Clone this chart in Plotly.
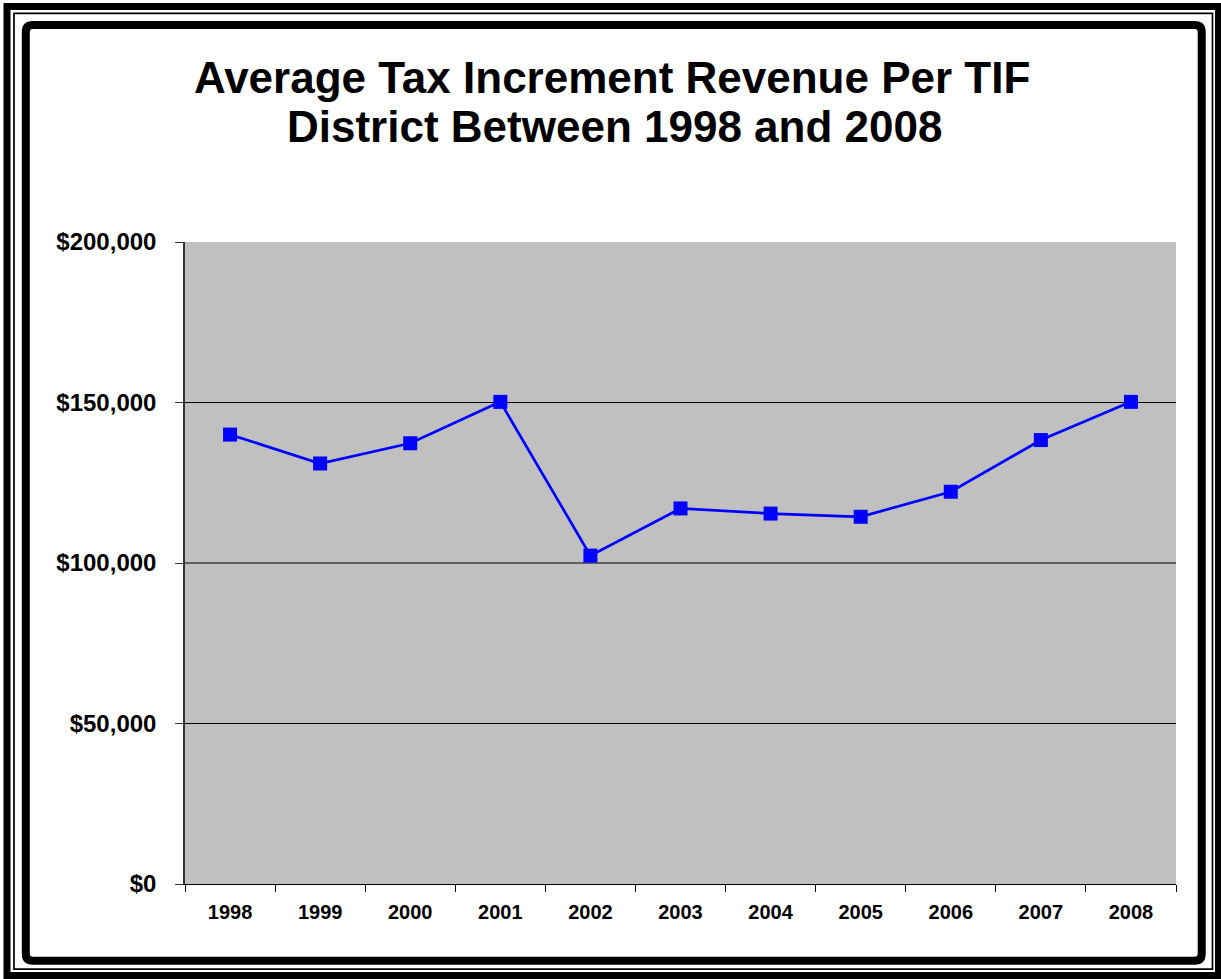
import plotly.graph_objects as go

years = ["1998", "1999", "2000", "2001", "2002", "2003", "2004", "2005", "2006", "2007", "2008"]
avg_revenue = [140000, 131000, 137300, 150200, 102300, 117000, 115400, 114400, 122200, 138300, 150200]
y_tick_vals = [0, 50000, 100000, 150000, 200000]
y_tick_text = ["$0", "$50,000", "$100,000", "$150,000", "$200,000"]
grid_vals = [50000, 100000, 150000]
title_lines = ["Average Tax Increment Revenue Per TIF", "District Between 1998 and 2008"]

W, H = 1221, 979
L, R, T, B = 185, 45, 242, 95
PW, PH = W - L - R, H - T - B


def px(x):
    return (x - L) / PW


def py(y):
    return (H - B - y) / PH


FONT = "Liberation Sans, Arial, sans-serif"

fig = go.Figure()
fig.add_trace(go.Scatter(
    x=years, y=avg_revenue, mode="lines+markers",
    line=dict(color="#0000FF", width=2.7),
    marker=dict(symbol="square", size=14, color="#0000FF", line=dict(color="#0000FF", width=0)),
    showlegend=False, hoverinfo="x+y",
))

shapes = []
for g in grid_vals:
    shapes.append(dict(type="line", xref="paper", yref="y", x0=0, x1=1, y0=g, y1=g,
                       line=dict(color="#000000", width=1), layer="below"))

# outer thick frame
shapes.append(dict(type="rect", xref="paper", yref="paper",
                   x0=px(7), x1=px(1218.5), y0=py(6.5), y1=py(975.5),
                   line=dict(color="black", width=7)))
# thin frame
shapes.append(dict(type="rect", xref="paper", yref="paper",
                   x0=px(14), x1=px(1212.5), y0=py(13.3), y1=py(969.2),
                   line=dict(color="black", width=1.7)))
# inner rounded chart-area border
x0, x1, y0, y1, rr = 25.8, 1201.7, 25, 960.7, 7
pts = [
    ("M", [(x0 + rr, y0)]),
    ("L", [(x1 - rr, y0)]),
    ("Q", [(x1, y0), (x1, y0 + rr)]),
    ("L", [(x1, y1 - rr)]),
    ("Q", [(x1, y1), (x1 - rr, y1)]),
    ("L", [(x0 + rr, y1)]),
    ("Q", [(x0, y1), (x0, y1 - rr)]),
    ("L", [(x0, y0 + rr)]),
    ("Q", [(x0, y0), (x0 + rr, y0)]),
]
path = ""
for cmd, cs in pts:
    path += cmd + " ".join(f"{px(a):.6f},{py(b):.6f}" for a, b in cs) + " "
path += "Z"
shapes.append(dict(type="path", xref="paper", yref="paper", path=path,
                   line=dict(color="black", width=8)))

annotations = [
    dict(text=title_lines[0], xref="paper", yref="paper", x=px(612), y=py(78),
         xanchor="center", yanchor="middle", showarrow=False,
         font=dict(family=FONT, size=44, color="black", weight="bold")),
    dict(text=title_lines[1], xref="paper", yref="paper", x=px(614), y=py(127),
         xanchor="center", yanchor="middle", showarrow=False,
         font=dict(family=FONT, size=44, color="black", weight="bold")),
]

fig.update_layout(
    width=W, height=H,
    margin=dict(l=L, r=R, t=T, b=B, pad=0),
    paper_bgcolor="white", plot_bgcolor="#C0C0C0",
    shapes=shapes, annotations=annotations,
    xaxis=dict(type="category", tickson="boundaries", ticks="outside", ticklen=7,
               tickcolor="black", tickwidth=1, showline=True, linecolor="black", linewidth=1,
               showgrid=False, zeroline=False, range=[-0.5, 10.5],
               tickfont=dict(family=FONT, size=20, color="black", weight="bold"),
               ticklabelstandoff=10),
    yaxis=dict(range=[0, 200000], tickvals=y_tick_vals, ticktext=y_tick_text,
               ticks="outside", ticklen=8, tickcolor="#333333", tickwidth=1,
               showline=True, linecolor="#333333", linewidth=1.5,
               showgrid=False, zeroline=False,
               tickfont=dict(family=FONT, size=24, color="black", weight="bold"),
               ticklabelstandoff=14),
)

fig.write_html("out.html", config={"displayModeBar": False},
               post_script="document.body.style.margin='0px';document.body.style.overflow='hidden';")
